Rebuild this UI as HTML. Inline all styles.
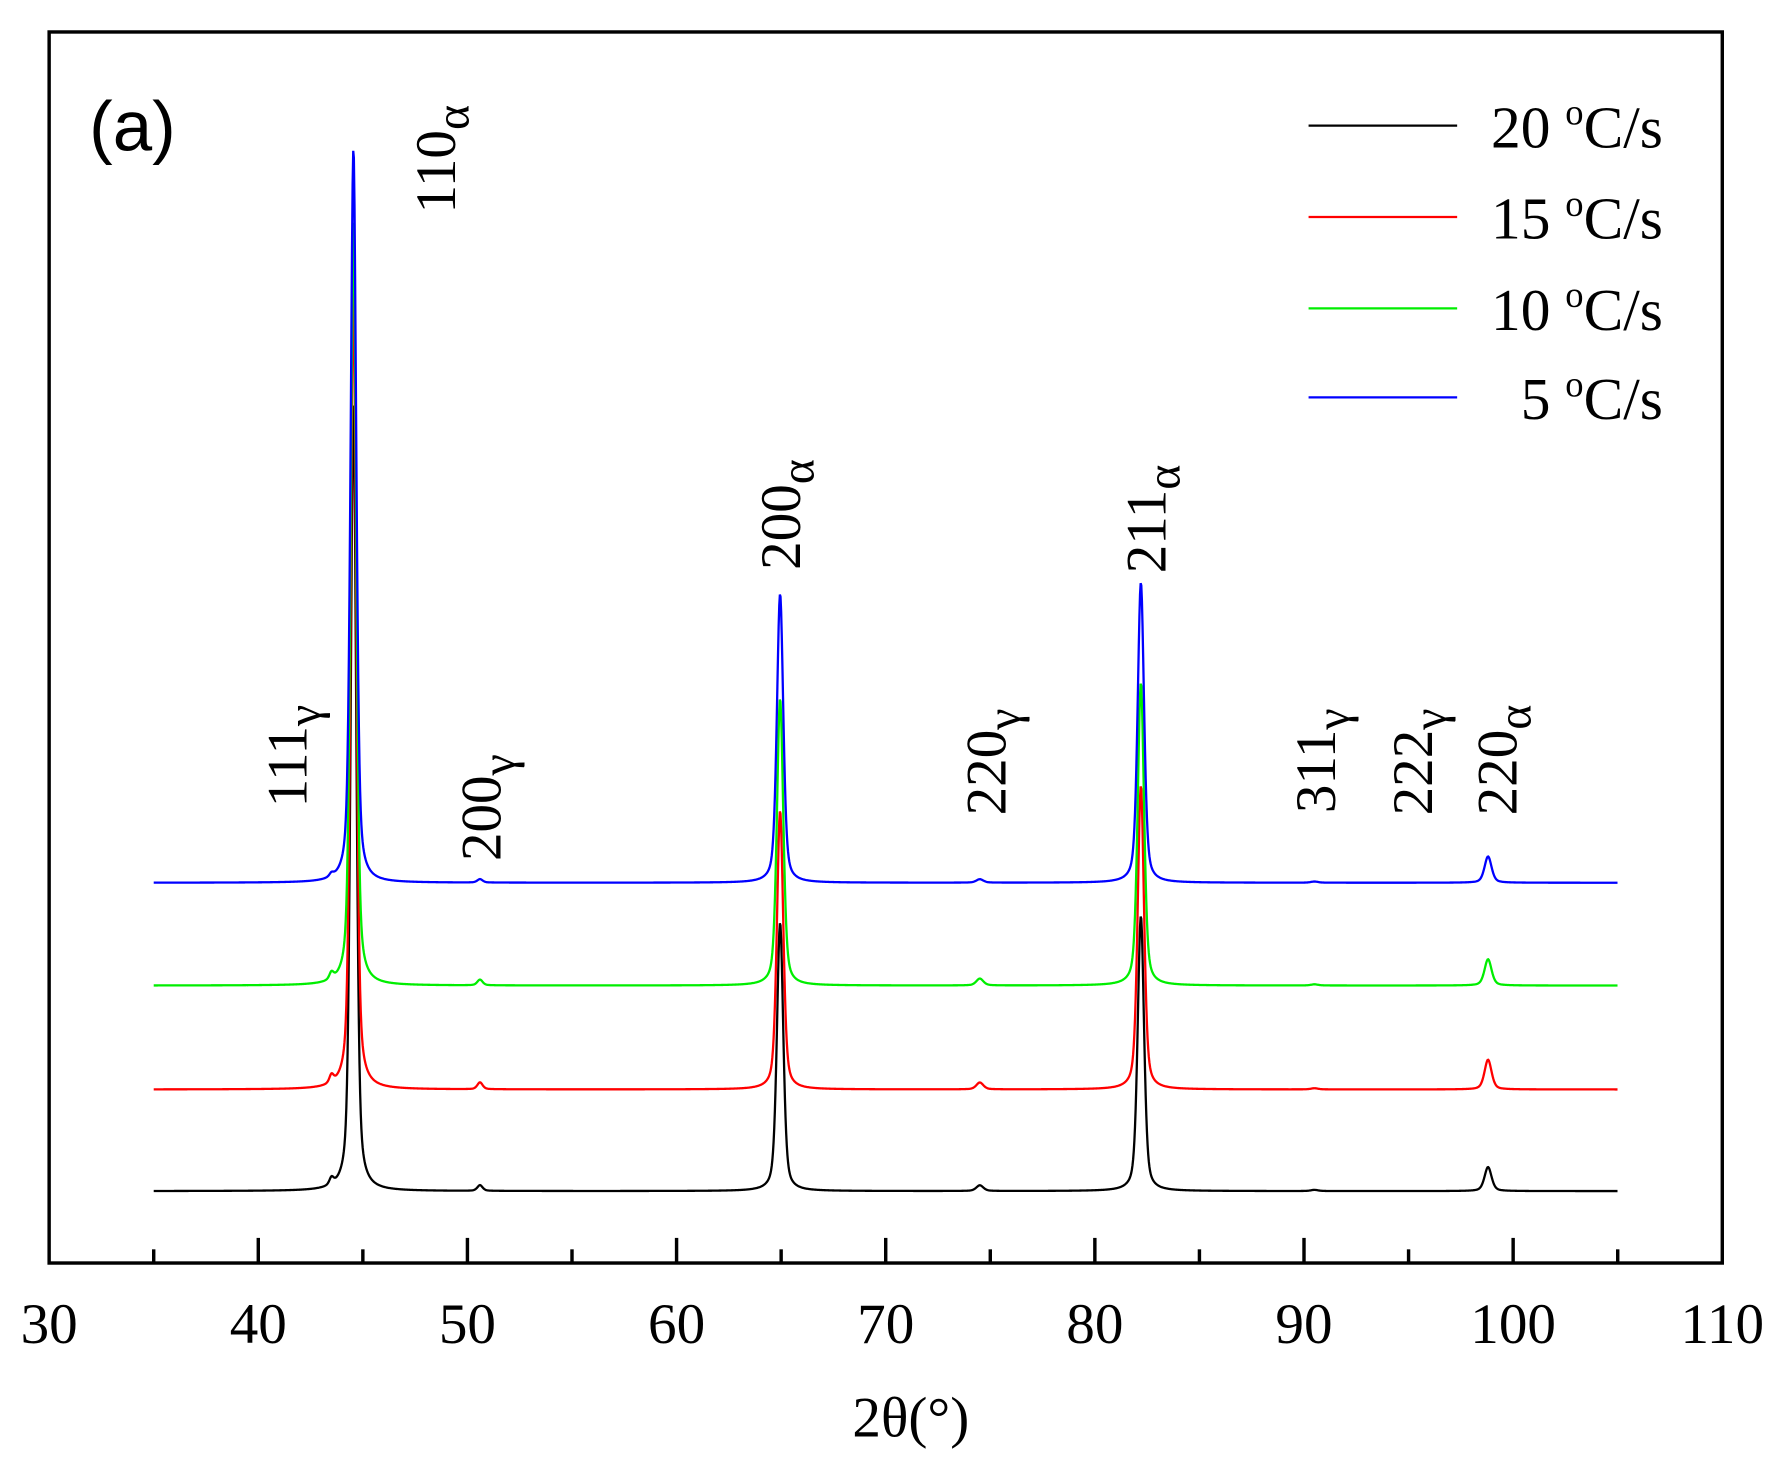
<!DOCTYPE html>
<html><head><meta charset="utf-8"><style>html,body{margin:0;padding:0;background:#fff}svg{display:block}</style></head>
<body>
<svg id="chart" width="1792" height="1480" viewBox="0 0 1568 1296" preserveAspectRatio="none" xmlns="http://www.w3.org/2000/svg" font-family="'Liberation Serif', serif">
<rect x="0" y="0" width="1568" height="1296" fill="#fff"/>
<g id="series"></g>
<rect x="43" y="28" width="1464" height="1078" fill="none" stroke="#000" stroke-width="3"/>
<g id="ticks"></g>
<text x="797" y="1258" font-size="50" text-anchor="middle">2θ(°)</text>
<text x="78" y="132" font-size="62" font-family="'Liberation Sans', sans-serif">(a)</text>
<g id="peaklabels"></g>
<g id="legend"></g>
</svg>
<script>
const seriesNames = ['20 °C/s','15 °C/s','10 °C/s','5 °C/s'];
const seriesColors = ['#000000','#ff0000','#00ee00','#0000ff'];
const baselines = [1043, 954, 863, 773];
const peakPositions = [43.5, 44.55, 50.6, 64.95, 74.5, 82.2, 90.5, 98.8];
const peakWidths = [0.12, 0.16, 0.15, 0.18, 0.2, 0.18, 0.2, 0.2];
const heights20 = [6, 690, 5, 235, 5, 241, 1, 21];
const heights15 = [7, 700, 6, 244, 6, 266, 1, 26];
const heights10 = [6, 670, 5, 251, 6, 265, 1, 23];
const heights5  = [3, 643, 3, 253, 3, 263, 1, 23];
const allHeights = [heights20, heights15, heights10, heights5];
const xTicks = [30,40,50,60,70,80,90,100,110];
const peakLabels = [['111','γ',43.5],['110','α',44.7],['200','γ',50.6],['200','α',65.0],['220','γ',74.5],['211','α',82.3],['311','γ',90.5],['222','γ',95.0],['220','α',98.8]];
const peakLabelBottoms = [707,187,754,499,714,502,712,714,714];
const peakLabelX = [268,398,438,700,880,1020,1168,1253,1327];

const NS='http://www.w3.org/2000/svg';
const xs = v => 43 + (v-30)*(1464/80);
function mk(tag, attrs, parent){const e=document.createElementNS(NS,tag);for(const k in attrs)e.setAttribute(k,attrs[k]);parent.appendChild(e);return e;}

const sg=document.getElementById('series');
for(let s=0;s<4;s++){
  let d='';
  for(let x=35;x<=105.0001;x+=0.03){
    let y=0;
    for(let p=0;p<peakPositions.length;p++){
      const w=peakWidths[p], dx=(x-peakPositions[p])/w;
      const prof=0.55*Math.exp(-0.693*dx*dx)+0.45/(1+dx*dx);
      y+=allHeights[s][p]*prof;
    }
    d+=(d?'L':'M')+xs(x).toFixed(2)+','+(baselines[s]-y).toFixed(2);
  }
  const p=mk('path',{d:d,fill:'none',stroke:seriesColors[s],'stroke-width':2},sg);
  
  
}

const tg=document.getElementById('ticks');
for(let v=35;v<=105;v+=5){
  const major=v%10===0;
  const t=mk('line',{x1:xs(v),x2:xs(v),y1:1106,y2:major?1084:1094,stroke:'#000','stroke-width':3},tg);
  
  
}
xTicks.forEach(v=>{
  const t=mk('text',{x:xs(v),y:1176,'font-size':50,'text-anchor':'middle'},tg);
  t.textContent=v;
  
  
});

const pg=document.getElementById('peaklabels');
peakLabels.forEach((l,i)=>{
  const t=mk('text',{transform:`translate(${peakLabelX[i]},${peakLabelBottoms[i]}) rotate(-90)`,'font-size':50},pg);
  
  
  const a=mk('tspan',{},t);a.textContent=l[0];
  const b=mk('tspan',{'font-size':42,dy:12},t);b.textContent=l[1];
});

const lg=document.getElementById('legend');
const ly=[110,190,270,348];
for(let s=0;s<4;s++){
  const l=mk('line',{x1:1145,x2:1275,y1:ly[s],y2:ly[s],stroke:seriesColors[s],'stroke-width':2},lg);
  
  
  const parts=seriesNames[s].split(' °');
  const t=mk('text',{x:1455,y:ly[s]+19,'font-size':52,'text-anchor':'end'},lg);
  
  
  const a=mk('tspan',{},t);a.textContent=parts[0]+' ';
  const b=mk('tspan',{'font-size':32,dy:-20},t);b.textContent='o';
  const c=mk('tspan',{dy:20},t);c.textContent=parts[1];
}
</script>
</body></html>
